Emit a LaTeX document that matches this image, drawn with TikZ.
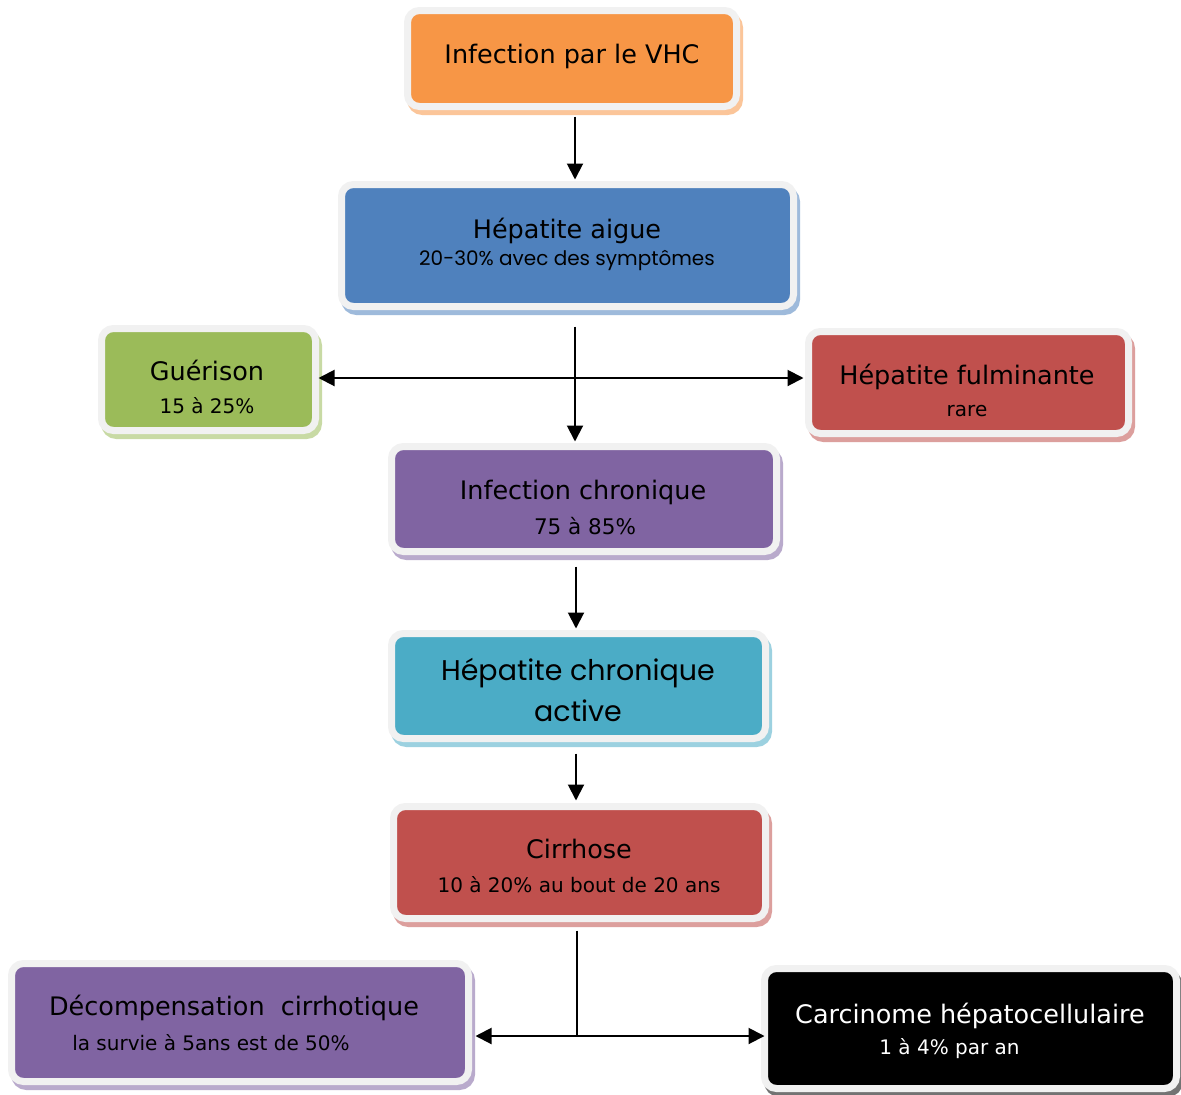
\documentclass[tikz,border=0pt]{standalone}
\usepackage{fontspec}
\setmainfont{DejaVu Sans}
\newfontfamily\geo{Poppins}
\usetikzlibrary{arrows.meta,shadows}
\definecolor{corange}{HTML}{F79646}
\definecolor{cblue}{HTML}{4F81BD}
\definecolor{cgreen}{HTML}{9BBB59}
\definecolor{cred}{HTML}{C0504D}
\definecolor{cpurple}{HTML}{8064A2}
\definecolor{caqua}{HTML}{4BACC6}
\definecolor{frame}{HTML}{F1F1F1}
\begin{document}
\begin{tikzpicture}[x=1pt,y=-1pt,
  box/.style={rounded corners=12pt, draw=frame, line width=7pt, inner sep=0pt},
  shade/.style={general shadow={fill=#1!55!white, draw=#1!55!white, line width=7pt, shadow xshift=3pt, shadow yshift=-5pt}},
  ttl/.style={font=\fontsize{25.5}{30}\selectfont, inner sep=0pt, anchor=base},
  sub/.style={font=\fontsize{20}{24}\selectfont, inner sep=0pt, anchor=base},
  tip/.tip={Triangle[length=16pt,width=16pt]},
  arr/.style={-tip, line width=2pt},
  arrr/.style={tip-tip, line width=2pt},
  conn/.style={line width=2pt}]
\useasboundingbox (0,0) rectangle (1181,1095);
\fill[white] (0,0) rectangle (1181,1095);

% boxes
\node[box, fill=corange, shade=corange, minimum width=329pt, minimum height=96pt] (vhc) at (572,58.5) {};
\node[box, fill=cblue, shade=cblue, minimum width=452pt, minimum height=122pt] (aigue) at (567.5,245.5) {};
\node[box, fill=cgreen, shade=cgreen, minimum width=214pt, minimum height=102pt] (guer) at (208.5,379.5) {};
\node[box, fill=cred, shade=cred, minimum width=320pt, minimum height=102pt] (fulm) at (968.5,382.5) {};
\node[box, fill=cpurple, shade=cpurple, minimum width=385pt, minimum height=105pt] (chron) at (584,499) {};
\node[box, fill=caqua, shade=caqua, minimum width=374pt, minimum height=105pt] (active) at (578.5,686) {};
\node[box, fill=cred, shade=cred, minimum width=372pt, minimum height=112pt] (cirr) at (579.5,862.5) {};
\node[box, fill=cpurple, shade=cpurple, minimum width=457pt, minimum height=118pt] (decomp) at (240,1022.5) {};
\node[box, fill=black, shade=black, minimum width=412pt, minimum height=120pt] (carc) at (970.5,1028.5) {};

% texts
\node[ttl] (vhc-t) at (572,63) {Infection par le VHC};
\node[ttl] (aigue-t) at (567,238) {Hépatite aigue};
\node[sub, font=\geo\fontsize{20}{24}\selectfont] (aigue-s) at (567,265) {20-30\% avec des symptômes};
\node[ttl] (guer-t) at (207,380) {Guérison};
\node[sub] (guer-s) at (207,413) {15 à 25\%};
\node[ttl] (fulm-t) at (967,384) {Hépatite fulminante};
\node[sub] (fulm-s) at (967,416) {rare};
\node[ttl] (chron-t) at (583,499) {Infection chronique};
\node[sub, font=\fontsize{21.5}{26}\selectfont] (chron-s) at (585,534) {75 à 85\%};
\node[ttl, font=\geo\fontsize{28.5}{33}\selectfont] (active-t) at (578,680) {Hépatite chronique};
\node[ttl, font=\geo\fontsize{28.5}{33}\selectfont] (active-s) at (578,721) {active};
\node[ttl] (cirr-t) at (579,858) {Cirrhose};
\node[sub] (cirr-s) at (579,892) {10 à 20\% au bout de 20 ans};
\node[ttl] (decomp-t) at (234,1015) {Décompensation\ \ cirrhotique};
\node[sub] (decomp-s) at (211,1050) {la survie à 5ans est de 50\%};
\node[ttl, text=white] (carc-t) at (970,1023) {Carcinome hépatocellulaire};
\node[sub, text=white] (carc-s) at (949.5,1054) {1 à 4\% par an};

% connectors
\coordinate (spine) at (575,0);
\coordinate (spine2) at (576,0);
\coordinate (cross) at (0,378);
\coordinate (fork) at (577,1036);
\draw[arr, shorten <=6.5pt, shorten >=1.5pt] (vhc.south -| spine) -- (aigue.north -| spine);
\draw[arr, shorten <=16.5pt, shorten >=1.5pt] (aigue.south -| spine) -- (chron.north -| spine);
\draw[arrr, shorten <=-0.5pt, shorten >=1.5pt] (guer.east |- cross) -- (fulm.west |- cross);
\draw[arr, shorten <=11.5pt, shorten >=1.5pt] (chron.south -| spine2) -- (active.north -| spine2);
\draw[arr, shorten <=11.5pt, shorten >=2.5pt] (active.south -| spine2) -- (cirr.north -| spine2);
\draw[conn, shorten <=8.5pt] (cirr.south -| fork) -- (fork);
\draw[arr, shorten >=3.5pt] (fork) -- (decomp.east |- fork);
\draw[arr, shorten >=-3.5pt] (fork) -- (carc.west |- fork);
\end{tikzpicture}
\end{document}
